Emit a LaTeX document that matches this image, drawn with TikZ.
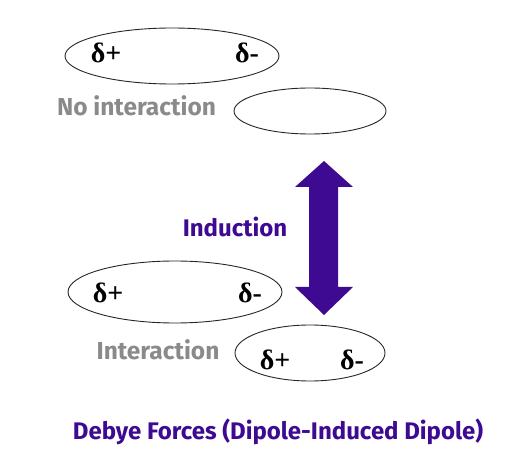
\documentclass[tikz,border=0pt]{standalone}
\usepackage{fontspec}
\setmainfont{Fira Sans}
\newfontfamily\dfont{Liberation Serif}
\definecolor{dpurple}{HTML}{3D0A91}
\definecolor{lgray}{HTML}{8A8A8A}
\begin{document}
\begin{tikzpicture}[x=1pt,y=-1pt,
  chg/.style={font=\dfont\bfseries\fontsize{28}{32}\selectfont,inner sep=0pt},
  glab/.style={font=\bfseries\fontsize{24.5}{28}\selectfont,text=lgray,inner sep=0pt},
  plab/.style={font=\bfseries\fontsize{24}{28}\selectfont,text=dpurple,inner sep=0pt}]
\useasboundingbox (0,0) rectangle (514,454);
% ellipses
\draw[line width=0.9pt,black!85] (172,56) ellipse [x radius=107, y radius=28];
\coordinate (e1) at (172,56);
\draw[line width=0.9pt,black!85] (310,111) ellipse [x radius=76, y radius=23];
\coordinate (e2) at (310,111);
\draw[line width=0.9pt,black!85] (175,292) ellipse [x radius=107, y radius=31];
\coordinate (e3) at (175,292);
\draw[line width=0.9pt,black!85] (310,353) ellipse [x radius=75, y radius=28];
\coordinate (e4) at (310,353);
% charges
\node[chg] (p1) at (106,53) {δ+};
\node[chg] (m1) at (247,53) {δ-};
\node[chg] (p3) at (108,293) {δ+};
\node[chg] (m3) at (250,293) {δ-};
\node[chg] (p4) at (275,360) {δ+};
\node[chg] (m4) at (352,360) {δ-};
% labels
\node[glab] (noint) at (136.5,106) {No interaction};
\node[glab] (int) at (158,350) {Interaction};
\node[plab] (ind) at (235,227) {Induction};
\node[plab] (title) at (278,432) {Debye Forces (Dipole-Induced Dipole)};
% double arrow
\fill[dpurple] (324,161) -- (353,187) -- (338,187) -- (338,287) -- (353,287)
  -- (324,315) -- (295,287) -- (309,287) -- (309,187) -- (295,187) -- cycle;
\end{tikzpicture}
\end{document}
